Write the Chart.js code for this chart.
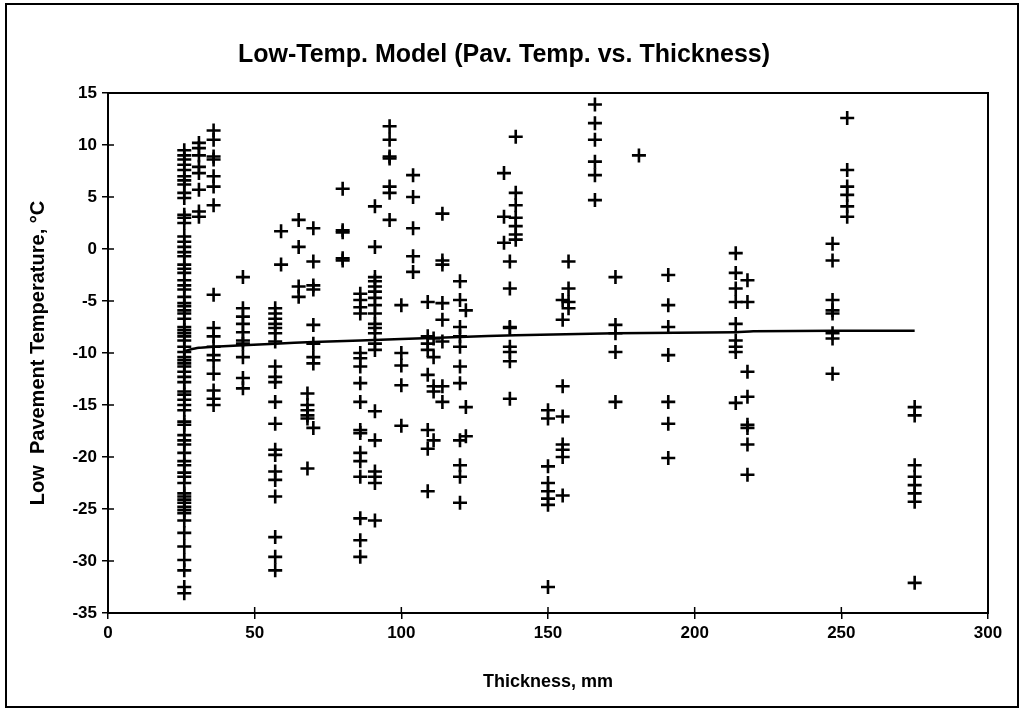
<!DOCTYPE html>
<html>
<head>
<meta charset="utf-8">
<script src="https://cdn.jsdelivr.net/npm/chart.js@4.4.1/dist/chart.umd.min.js"></script>
<style>
  html, body { margin: 0; padding: 0; background: #fff; }
  #wrap { width: 1024px; height: 712px; }
</style>
</head>
<body>
<div id="wrap"><canvas id="c" width="1024" height="712"></canvas></div>
<script>
// ---- data ----
const thickness = [26, 31, 36, 46, 57, 59, 65, 68, 70, 80, 86, 91, 96, 100, 104, 109, 111, 114, 120, 122, 135, 137, 139, 150, 155, 157, 166, 173, 181, 191, 214, 218, 247, 252, 275];
const temperatures = [
  [9.5, 9.0, 8.6, 8.1, 7.6, 7.0, 6.6, 6.2, 5.4, 4.9, 3.3, 3.0, 2.5, 1.2, 0.7, 0.2, -0.3, -0.7, -1.5, -1.9, -2.3, -3.0, -3.5, -3.9, -4.6, -5.2, -5.5, -5.9, -6.2, -6.7, -7.5, -7.8, -8.1, -8.4, -8.8, -9.4, -9.9, -10.4, -10.7, -11.0, -11.3, -11.8, -12.3, -12.8, -13.7, -14.0, -14.5, -15.0, -15.5, -16.6, -16.9, -17.9, -18.4, -18.8, -19.6, -20.4, -20.8, -21.5, -21.9, -22.5, -23.5, -23.8, -24.1, -24.4, -24.8, -25.1, -25.4, -26.1, -27.3, -28.6, -29.9, -30.9, -32.5, -33.1],
  [10.2, 9.7, 9.0, 7.9, 7.3, 5.7, 3.6, 3.1],
  [11.4, 10.5, 8.9, 8.6, 7.0, 6.0, 4.2, -4.4, -7.6, -8.4, -9.4, -10.2, -10.7, -12.0, -13.6, -14.4, -15.0],
  [-2.7, -5.7, -6.5, -7.2, -8.0, -8.8, -9.1, -10.4, -12.4, -13.4],
  [-5.7, -6.2, -6.7, -7.2, -7.6, -8.1, -8.9, -11.3, -12.3, -12.8, -14.7, -16.8, -19.3, -19.8, -21.4, -22.2, -23.8, -27.7, -29.6, -30.9],
  [1.7, -1.5],
  [2.8, 0.2, -3.6, -4.6],
  [-13.9, -15.0, -15.5, -16.0, -16.3, -21.1],
  [2.0, -1.2, -3.5, -3.9, -7.3, -9.1, -10.4, -11.0, -17.2],
  [5.8, 1.8, 1.6, -0.9, -1.1],
  [-4.3, -4.9, -5.6, -6.2, -10.0, -10.5, -11.3, -12.9, -14.7, -17.4, -17.7, -19.6, -20.4, -21.9, -25.9, -28.0, -29.6],
  [4.1, 0.2, -2.7, -3.1, -3.6, -4.1, -4.7, -5.4, -6.2, -7.2, -7.6, -8.1, -9.1, -9.7, -15.6, -18.4, -21.4, -21.9, -22.5, -26.1],
  [11.8, 10.5, 8.9, 8.7, 6.0, 5.4, 2.8],
  [-5.4, -10.0, -11.2, -13.1, -17.0],
  [7.1, 5.0, 2.0, -0.7, -2.2],
  [-5.1, -8.4, -9.1, -9.7, -12.1, -17.4, -19.2, -23.3],
  [-8.6, -10.4, -13.2, -13.7, -18.4],
  [3.4, -1.1, -1.5, -5.2, -6.8, -8.9, -13.2, -14.7],
  [-3.1, -4.9, -7.5, -8.4, -9.4, -11.3, -12.9, -18.4, -20.8, -21.9, -24.4],
  [-5.9, -15.2, -18.0],
  [7.3, 3.1, 0.6],
  [-1.2, -3.8, -7.5, -7.6, -9.4, -9.9, -10.8, -14.4],
  [10.8, 5.4, 4.2, 3.0, 2.2, 1.4, 0.9],
  [-15.5, -16.3, -20.9, -22.5, -23.3, -24.0, -24.6, -32.5],
  [-4.9, -6.8, -13.2, -16.1, -18.8, -19.3, -20.0, -23.7],
  [-1.2, -3.8, -5.1, -5.7],
  [13.9, 12.1, 10.5, 8.4, 7.1, 4.7],
  [-2.7, -7.3, -8.1, -9.9, -14.7],
  [9.0],
  [-2.5, -5.4, -7.5, -10.2, -14.7, -16.8, -20.1],
  [-0.4, -2.3, -3.8, -5.1, -7.2, -8.8, -9.4, -9.9, -14.8],
  [-3.0, -5.1, -11.8, -14.2, -16.9, -17.2, -18.8, -21.7],
  [0.5, -1.1, -4.9, -5.9, -6.2, -8.1, -8.6, -12.0],
  [12.6, 7.6, 6.0, 5.2, 4.1, 3.1],
  [-15.2, -16.0, -20.8, -21.9, -22.7, -23.5, -24.3, -32.1]
];
const trendX = [26, 31, 36, 46, 57, 70, 86, 100, 120, 139, 173, 214, 220, 275];
const trendY = [-9.8, -9.5, -9.4, -9.25, -9.1, -8.95, -8.8, -8.65, -8.45, -8.3, -8.1, -8.0, -7.9, -7.85];
const xTicks = [0, 50, 100, 150, 200, 250, 300];
const yTicks = [-35, -30, -25, -20, -15, -10, -5, 0, 5, 10, 15];

const titleText = 'Low-Temp. Model (Pav. Temp. vs. Thickness)';
const xTitle = 'Thickness, mm';
const yTitle = 'Low  Pavement Temperature, °C';

// ---- build datasets ----
const scatterPts = [];
thickness.forEach((x, i) => temperatures[i].forEach(y => scatterPts.push({ x, y })));
const trendPts = trendX.map((x, i) => ({ x, y: trendY[i] }));

const FONT = 'Liberation Sans, Arial, sans-serif';
const PLOT_LEFT = 108, PLOT_BOTTOM = 613;

const decor = {
  id: 'decor',
  beforeDraw(chart) {
    const ctx = chart.ctx;
    ctx.save();
    ctx.fillStyle = '#fff';
    ctx.fillRect(0, 0, chart.width, chart.height);
    ctx.strokeStyle = '#000';
    ctx.lineWidth = 2;
    ctx.strokeRect(6, 4, 1012, 703);
    ctx.restore();
  },
  afterDatasetsDraw(chart) {
    const ctx = chart.ctx, a = chart.chartArea;
    const xs = chart.scales.x, ys = chart.scales.y;
    ctx.save();
    ctx.strokeStyle = '#000';
    ctx.lineWidth = 2;
    ctx.strokeRect(a.left, a.top, a.right - a.left, a.bottom - a.top);
    ctx.lineWidth = 1.5;
    ctx.beginPath();
    xTicks.forEach(v => {
      const px = xs.getPixelForValue(v);
      ctx.moveTo(px, a.bottom - 6); ctx.lineTo(px, a.bottom);
    });
    yTicks.forEach(v => {
      const py = ys.getPixelForValue(v);
      ctx.moveTo(a.left, py); ctx.lineTo(a.left + 6, py);
    });
    ctx.stroke();
    ctx.restore();
  }
};

new Chart(document.getElementById('c'), {
  type: 'scatter',
  data: {
    datasets: [
      {
        label: 'Data',
        data: scatterPts,
        pointStyle: 'cross',
        pointRadius: 7,
        pointBorderWidth: 2.6,
        borderColor: '#000',
        backgroundColor: '#000',
        pointHoverRadius: 7
      },
      {
        label: 'Trend',
        data: trendPts,
        showLine: true,
        pointRadius: 0,
        borderColor: '#000',
        borderWidth: 2.5,
        tension: 0.3,
        fill: false
      }
    ]
  },
  options: {
    responsive: false,
    animation: false,
    devicePixelRatio: 1,
    layout: { padding: { left: 20, right: 36, top: 40, bottom: 10 } },
    plugins: {
      legend: { display: false },
      tooltip: { enabled: false },
      title: {
        display: true,
        text: titleText,
        color: '#000',
        font: { family: FONT, size: 25, weight: 'bold' },
        padding: { top: 0, bottom: 23 }
      }
    },
    scales: {
      x: {
        type: 'linear',
        min: 0, max: 300,
        afterBuildTicks(s) { s.ticks = xTicks.map(v => ({ value: v })); },
        afterFit(s) { s.height = 712 - 10 - PLOT_BOTTOM; },
        ticks: { color: '#000', font: { family: FONT, size: 17, weight: 'bold' }, padding: 4, maxRotation: 0 },
        grid: { drawOnChartArea: false, tickLength: 6, color: '#000', lineWidth: 1.5 },
        border: { color: '#000', width: 2 },
        title: {
          display: true, text: xTitle, color: '#000',
          font: { family: FONT, size: 18, weight: 'bold' },
          padding: { top: 0, bottom: 9 }
        }
      },
      y: {
        type: 'linear',
        min: -35, max: 15,
        afterBuildTicks(s) { s.ticks = yTicks.map(v => ({ value: v })); },
        afterFit(s) { s.width = PLOT_LEFT - 20; },
        ticks: { color: '#000', font: { family: FONT, size: 17, weight: 'bold' }, padding: 5 },
        grid: { drawOnChartArea: false, tickLength: 6, color: '#000', lineWidth: 1.5 },
        border: { color: '#000', width: 2 },
        title: {
          display: true, text: yTitle, color: '#000',
          font: { family: FONT, size: 20, weight: 'bold' },
          padding: { top: 6, bottom: 0 }
        }
      }
    }
  },
  plugins: [decor]
});
</script>
</body>
</html>
